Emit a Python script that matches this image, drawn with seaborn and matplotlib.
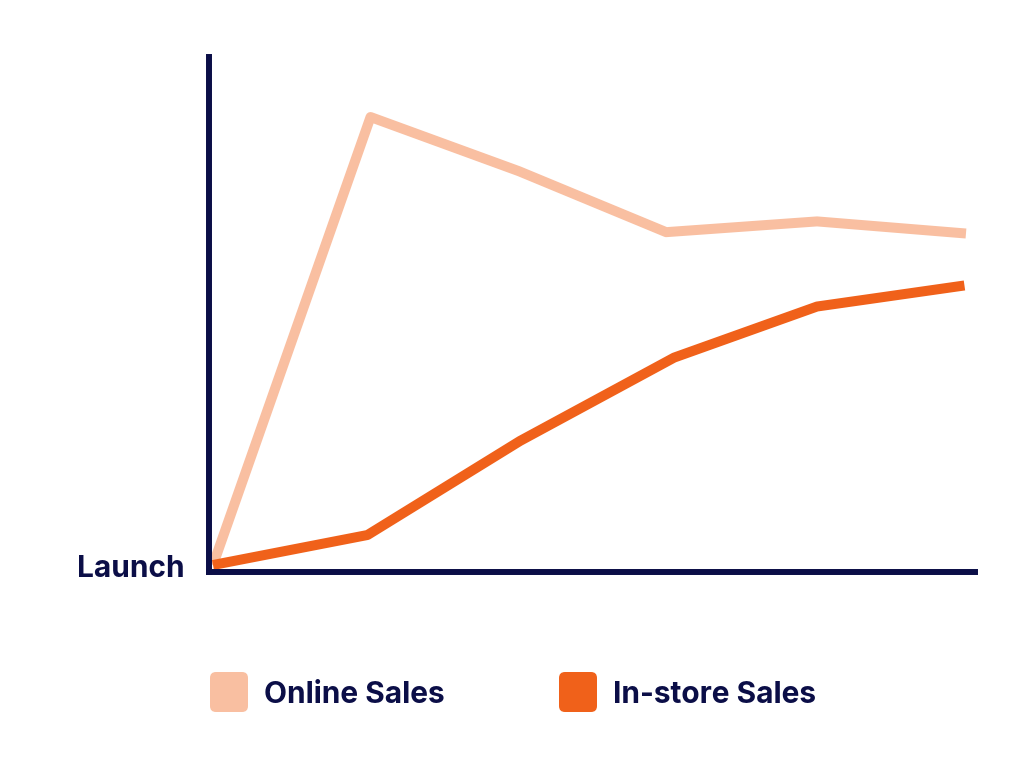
import pandas as pd
import seaborn as sns
import matplotlib.pyplot as plt
from matplotlib.patches import FancyBboxPatch
from matplotlib.transforms import IdentityTransform

# chart values (0 = launch)
online_steps = [0, 1.046, 2.032, 3.009, 4.011, 5.0]
online_sales = [0, 100, 87.9, 74.3, 76.7, 74.0]
instore_steps = [0, 1.026, 2.039, 3.062, 4.011, 4.99]
instore_sales = [0, 6.7, 27.7, 46.3, 57.7, 62.4]
series_names = ['Online Sales', 'In-store Sales']

NAVY = '#0B0E47'
colors = {'Online Sales': '#F9BFA1', 'In-store Sales': '#F0611A'}

df = pd.concat([
    pd.DataFrame({'step': online_steps, 'sales': online_sales, 'series': series_names[0]}),
    pd.DataFrame({'step': instore_steps, 'sales': instore_sales, 'series': series_names[1]}),
])

sns.set_theme(style='white')
plt.rcParams['font.family'] = ['Inter', 'DejaVu Sans']

W, H = 1024, 779
fig = plt.figure(figsize=(W / 100, H / 100), dpi=100)
ax = fig.add_axes([208.5 / W, (H - 572) / H, (975 - 208.5) / W, (572 - 57) / H])

sns.lineplot(data=df, x='step', y='sales', hue='series', palette=colors,
             linewidth=7.2, legend=False, ax=ax, sort=False,
             solid_joinstyle='round', solid_capstyle='butt')

ax.set_xlim(-0.03, 5.06)
ax.set_ylim(-1.56, 113.4)
ax.set_xticks([])
ax.set_yticks([])
ax.set_xlabel('')
ax.set_ylabel('')
for side in ['top', 'right']:
    ax.spines[side].set_visible(False)
for side in ['left', 'bottom']:
    ax.spines[side].set_color(NAVY)
    ax.spines[side].set_linewidth(4.3)
    ax.spines[side].set_capstyle('projecting')

fig.text(185 / W, (H - 577) / H, 'Launch', ha='right', va='baseline',
         fontsize=21.5, fontweight='bold', color=NAVY)

# legend drawn by hand: rounded swatches + labels (pixel coords from the top)
legend_items = [(210, series_names[0]), (559, series_names[1])]
for x0, name in legend_items:
    fig.patches.append(FancyBboxPatch(
        (x0 + 4, H - 708), 30, 32,
        boxstyle='round,pad=4,rounding_size=6',
        transform=IdentityTransform(), facecolor=colors[name], edgecolor='none'))
    fig.text((x0 + 54) / W, (H - 703) / H, name, ha='left', va='baseline',
             fontsize=21.5, fontweight='bold', color=NAVY)

fig.savefig('out.png', dpi=100, facecolor='white')
